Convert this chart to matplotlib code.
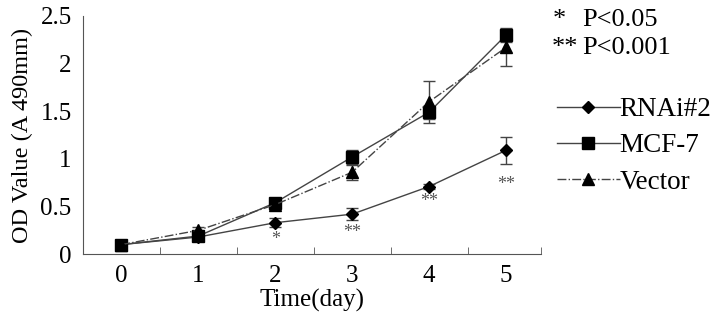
import matplotlib.pyplot as plt
from matplotlib.lines import Line2D

plt.rcParams["font.family"] = ["Liberation Serif", "DejaVu Serif"]

days = [0, 1, 2, 3, 4, 5]

rnai = [0.10, 0.18, 0.33, 0.42, 0.71, 1.09]
rnai_err = [0.01, 0.03, 0.05, 0.06, 0.03, 0.14]
mcf = [0.10, 0.19, 0.54, 1.02, 1.49, 2.30]
mcf_err = [0.01, 0.04, 0.03, 0.07, 0.07, 0.07]
vector = [0.10, 0.25, 0.52, 0.86, 1.60, 2.17]
vector_err = [0.01, 0.03, 0.03, 0.08, 0.22, 0.19]

# significance marks under RNAi#2
star_days = [2, 3, 4, 5]
star_y = [0.15, 0.23, 0.55, 0.73]
star_text = ["*", "**", "**", "**"]

fig = plt.figure(figsize=(7.2, 3.13), dpi=100)
ax = fig.add_axes([0.115, 0.188, 0.636, 0.761])

line_col = "#444444"
styles = [
    ("RNAi#2", rnai, rnai_err, "-", "D", 6),
    ("MCF-7", mcf, mcf_err, "-", "s", 8),
    ("Vector", vector, vector_err, "-.", "^", 8),
]
handles = []
for name, vals, err, ls, mk, ms in styles:
    ax.errorbar(days, vals, yerr=err, color=line_col, lw=1, ls=ls, marker=mk,
                ms=ms, mfc="black", mec="black", capsize=4.5, ecolor=line_col,
                elinewidth=1)
    handles.append(Line2D([], [], color=line_col, lw=1, ls=ls, marker=mk,
                          ms=ms, mfc="black", mec="black", label=name))

for d, y, t in zip(star_days, star_y, star_text):
    ax.text(d, y, t, ha="center", va="center", fontsize=13, color="#555555")

ax.set_xlim(-0.5, 5.45)
ax.set_ylim(0, 2.5)
ax.set_xticks(days)
ax.set_xticks([0.5, 1.5, 2.5, 3.5, 4.5, 5.45], minor=True)
ax.set_yticks([0, 0.5, 1, 1.5, 2, 2.5])
ax.set_yticklabels(["0", "0.5", "1", "1.5", "2", "2.5"])
ax.tick_params(axis="both", which="major", length=0, labelsize=18, pad=8)
ax.tick_params(axis="x", which="minor", direction="in", length=5,
               color="#555555")

for s in ["top", "right"]:
    ax.spines[s].set_visible(False)
for s in ["left", "bottom"]:
    ax.spines[s].set_color("#555555")

ax.set_xlabel("Time(day)", fontsize=18, labelpad=1)
ax.set_ylabel("OD Value (A 490mm)", fontsize=17.5, labelpad=5)

fig.legend(handles=handles, loc="upper left", bbox_to_anchor=(0.774, 0.69),
           frameon=False, fontsize=19.5, handlelength=2.3, handletextpad=0.0,
           labelspacing=0.42, borderpad=0, borderaxespad=0)

fig.text(0.768, 0.937, "*", fontsize=19, va="center")
fig.text(0.766, 0.847, "**", fontsize=19, va="center")
fig.text(0.808, 0.937, "P<0.05", fontsize=19, va="center")
fig.text(0.808, 0.847, "P<0.001", fontsize=19, va="center")

fig.savefig("out.png")
